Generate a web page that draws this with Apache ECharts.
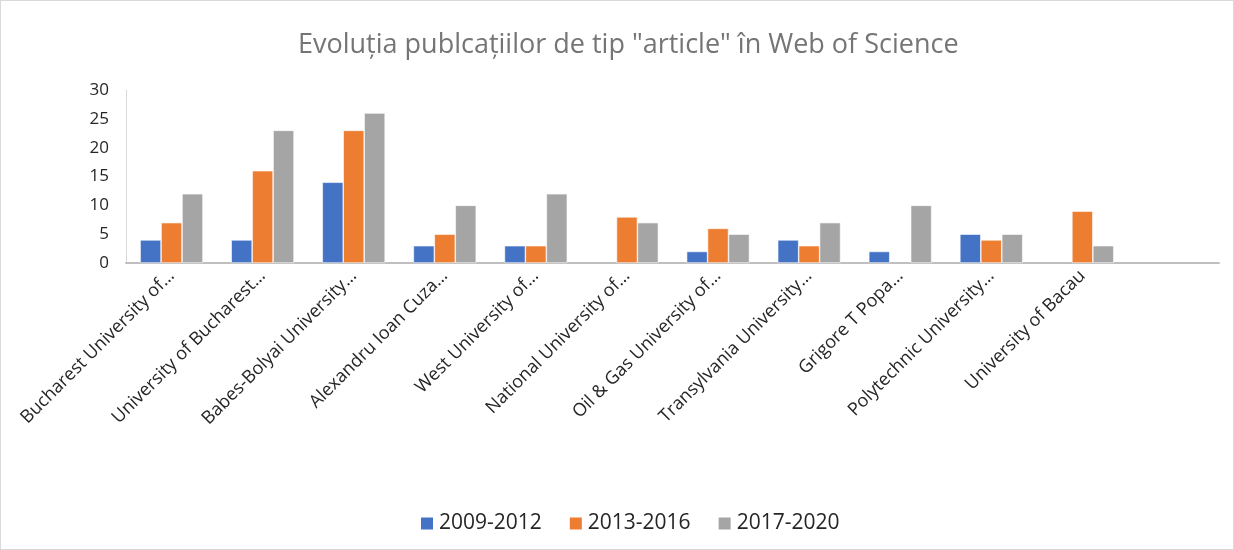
<!DOCTYPE html>
<html>
<head>
<meta charset="utf-8">
<script src="https://cdn.jsdelivr.net/npm/echarts@6/dist/echarts.min.js"></script>
<style>
  html, body { margin: 0; padding: 0; background: #fff; }
  #show { width: 1232px; height: 548px; border: 1px solid #d9d9d9; }
</style>
</head>
<body>
<div id="show"></div>
<script>
var categories = ['Bucharest University of…', 'University of Bucharest…', 'Babes-Bolyai University…',
    'Alexandru Ioan Cuza…', 'West University of…', 'National University of…', 'Oil & Gas University of…',
    'Transylvania University…', 'Grigore T Popa…', 'Polytechnic University…', 'University of Bacau', ''];
var seriesNames = ['2009-2012', '2013-2016', '2017-2020'];
var v2009 = [4, 4, 14, 3, 3, null, 2, 4, 2, 5, null, null];
var v2013 = [7, 16, 23, 5, 3, 8, 6, 3, null, 4, 9, null];
var v2017 = [12, 23, 26, 10, 12, 7, 5, 7, 10, 5, 3, null];
var yTicks = [0, 30, 5]; // min, max, interval

var colors = ['#4472c4', '#ed7d31', '#a5a5a5'];
var myChart = echarts.init(document.getElementById('show'));

function bar(name, data, i) {
    return {
        name: name,
        type: 'bar',
        data: data,
        barGap: '0%',
        barCategoryGap: '31%',
        itemStyle: { color: colors[i], borderColor: '#ffffff', borderWidth: 0.6 }
    };
}

var option = {
    textStyle: { fontFamily: 'Open Sans' },
    title: {
        text: 'Evoluția publcațiilor de tip "article" în Web of Science',
        left: 292,
        top: 26,
        textStyle: { fontSize: 27, fontWeight: 'normal', color: '#757575', fontFamily: 'Open Sans' }
    },
    legend: {
        bottom: 10,
        left: 413,
        itemWidth: 14,
        itemHeight: 14,
        itemGap: 26,
        icon: 'rect',
        textStyle: { fontSize: 21, color: '#262626' },
        data: seriesNames
    },
    grid: { left: 125, right: 14, top: 89, bottom: 286 },
    xAxis: {
        type: 'category',
        data: categories,
        axisLine: { lineStyle: { color: '#bfbfbf', width: 2 } },
        axisTick: { show: false },
        axisLabel: { rotate: 45, fontSize: 18, color: '#262626', interval: 0, margin: 10 }
    },
    yAxis: {
        type: 'value',
        min: yTicks[0],
        max: yTicks[1],
        interval: yTicks[2],
        splitLine: { show: false },
        axisLine: { show: true, lineStyle: { color: '#d9d9d9' } },
        axisTick: { show: false },
        axisLabel: { fontSize: 17, color: '#262626', margin: 17 }
    },
    series: [bar(seriesNames[0], v2009, 0), bar(seriesNames[1], v2013, 1), bar(seriesNames[2], v2017, 2)]
};
myChart.setOption(option);
</script>
</body>
</html>
